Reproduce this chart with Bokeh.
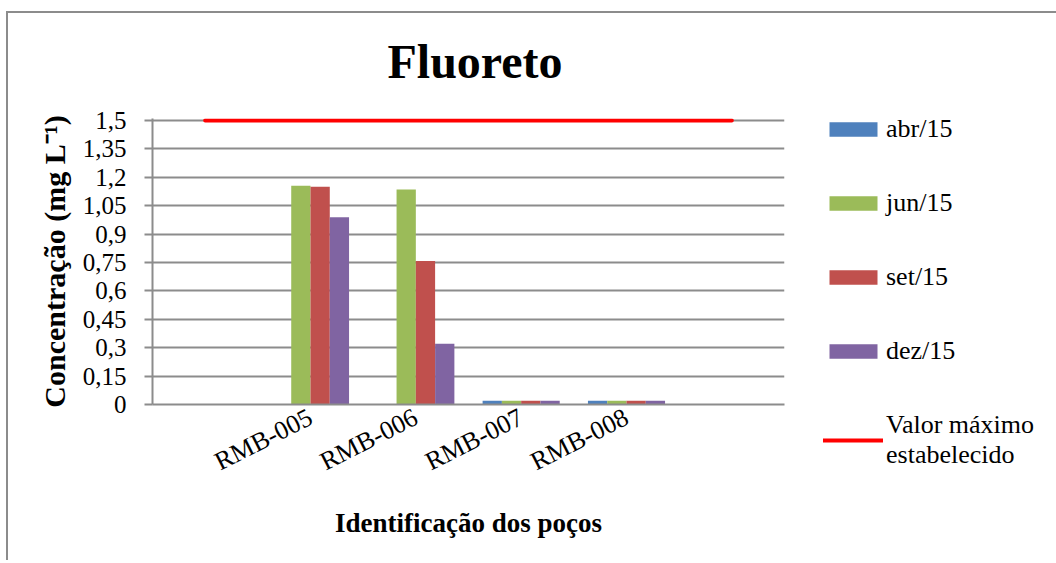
from bokeh.plotting import figure
from bokeh.models import (FactorRange, Range1d, FixedTicker, CustomJSTickFormatter,
                          Legend, LegendItem, ColumnDataSource)
from bokeh.transform import dodge
from bokeh.embed import file_html
from bokeh.resources import INLINE

# ---- data ----
categories = [" ", "RMB-005", "RMB-006", "RMB-007", "RMB-008", "  "]
series_names = ["abr/15", "jun/15", "set/15", "dez/15"]
abr15 = [0.0, 0.0, 0.0, 0.02, 0.02, 0.0]
jun15 = [0.0, 1.155, 1.135, 0.02, 0.02, 0.0]
set15 = [0.0, 1.150, 0.757, 0.02, 0.02, 0.0]
dez15 = [0.0, 0.988, 0.321, 0.02, 0.02, 0.0]
limite = [1.5, 1.5, 1.5, 1.5, 1.5, 1.5]
limite_label = "Valor máximo\nestabelecido"
y_ticks = [0, 0.15, 0.3, 0.45, 0.6, 0.75, 0.9, 1.05, 1.2, 1.35, 1.5]
y_labels = ["0", "0,15", "0,3", "0,45", "0,6", "0,75", "0,9", "1,05", "1,2", "1,35", "1,5"]

colors = ["#4F81BD", "#9BBB59", "#C0504D", "#8064A2"]
FONT = "Liberation Serif"
GRID = "#8c8c8c"

source = ColumnDataSource(dict(x=categories, abr=abr15, jun=jun15, set=set15,
                               dez=dez15, lim=limite))

p = figure(x_range=FactorRange(factors=categories, range_padding=0),
           y_range=Range1d(0, 1.51),
           frame_width=632, frame_height=286,
           min_border_left=152, min_border_right=0,
           min_border_top=118, min_border_bottom=156,
           output_backend="svg", toolbar_location=None,
           title="Fluoreto",
           styles={
               "background-color": "white",
               "background-image": "linear-gradient(#8c8c8c, #8c8c8c), linear-gradient(#8c8c8c, #8c8c8c)",
               "background-size": "100% 2px, 2px 100%",
               "background-position": "6px 11px, 6px 11px",
               "background-repeat": "no-repeat",
           })

p.outline_line_color = None
p.background_fill_color = "white"
p.border_fill_alpha = 0

p.title.text_font = FONT
p.title.text_font_size = "48px"
p.title.text_font_style = "bold"
p.title.align = "left"
p.title.offset = 235
p.title.standoff = 61
p.title.text_color = "black"

w = 0.183
offsets = [-1.5 * w, -0.5 * w, 0.5 * w, 1.5 * w]
fields = ["abr", "jun", "set", "dez"]
bar_renderers = []
for f, off, c in zip(fields, offsets, colors):
    r = p.vbar(x=dodge("x", off, range=p.x_range), top=f, bottom=0, width=w,
               source=source, fill_color=c, line_color=None)
    bar_renderers.append(r)

line_r = p.line(x="x", y="lim", source=source, line_color="#FF0000",
                line_width=4, line_cap="round")

# axes
p.xgrid.grid_line_color = None
p.ygrid.grid_line_color = GRID
p.ygrid.grid_line_width = 2

p.yaxis.ticker = FixedTicker(ticks=y_ticks)
p.yaxis.formatter = CustomJSTickFormatter(args=dict(tvals=y_ticks, tlabels=y_labels), code="""
const i = tvals.findIndex(t => Math.abs(t - tick) < 1e-9);
return i >= 0 ? tlabels[i] : '';
""")
p.yaxis.major_tick_out = 8
p.yaxis.major_tick_in = 0
p.yaxis.minor_tick_out = 0
p.yaxis.minor_tick_in = 0
p.yaxis.axis_line_color = GRID
p.yaxis.axis_line_width = 2
p.yaxis.major_tick_line_color = GRID
p.yaxis.major_tick_line_width = 2
p.yaxis.major_label_text_font = FONT
p.yaxis.major_label_text_font_size = "25px"
p.yaxis.major_label_text_color = "black"
p.yaxis.major_label_standoff = 18
p.yaxis.axis_label = "Concentração (mg L⁻¹)"
p.yaxis.axis_label_text_font = FONT
p.yaxis.axis_label_text_font_size = "30px"
p.yaxis.axis_label_text_font_style = "bold"
p.yaxis.axis_label_text_color = "black"
p.yaxis.axis_label_standoff = 9

p.xaxis.major_tick_out = 0
p.xaxis.major_tick_in = 0
p.xaxis.axis_line_color = GRID
p.xaxis.axis_line_width = 2
p.xaxis.major_label_text_font = FONT
p.xaxis.major_label_text_font_size = "26px"
p.xaxis.major_label_text_color = "black"
p.xaxis.major_label_orientation = 0.47
p.xaxis.major_label_standoff = 11
p.xaxis.axis_label = "Identificação dos poços"
p.xaxis.axis_label_text_font = FONT
p.xaxis.axis_label_text_font_size = "27px"
p.xaxis.axis_label_text_font_style = "bold"
p.xaxis.axis_label_text_color = "black"
p.xaxis.axis_label_standoff = 16

items = [LegendItem(label=n, renderers=[r]) for n, r in zip(series_names, bar_renderers)]
items.append(LegendItem(label=limite_label, renderers=[line_r]))
legend = Legend(items=items, location=(39, -66), orientation="vertical",
                glyph_width=60, glyph_height=18, label_standoff=3,
                label_height=30, spacing=44, padding=0, margin=0,
                border_line_color=None, background_fill_alpha=0,
                label_text_font=FONT, label_text_font_size="26px",
                label_text_color="black")
p.add_layout(legend, "right")

open("out.html", "w").write(file_html(p, INLINE))
